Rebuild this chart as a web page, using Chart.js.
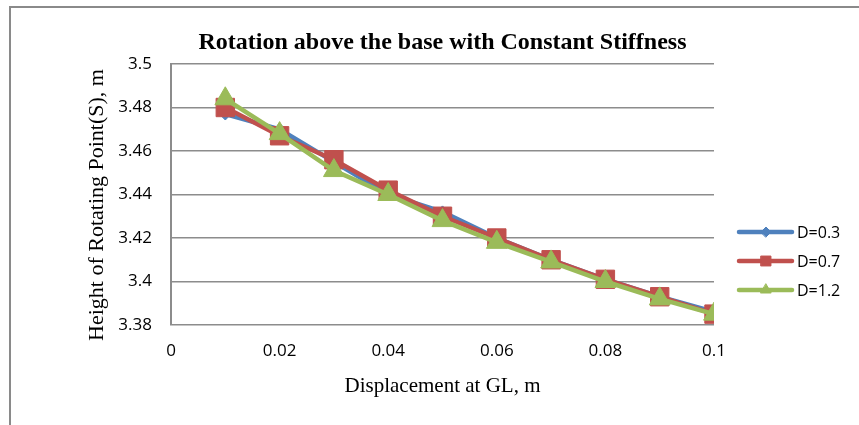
<!DOCTYPE html>
<html>
<head>
<meta charset="utf-8">
<script src="https://cdn.jsdelivr.net/npm/chart.js@4.4.1/dist/chart.umd.min.js"></script>
<style>
  html, body { margin: 0; padding: 0; background: #fff; }
  #wrap { position: relative; width: 859px; height: 425px; }
</style>
</head>
<body>
<div id="wrap"><canvas id="c" width="859" height="425"></canvas></div>
<script>
// ---- data ----
const displacement = [0.01, 0.02, 0.03, 0.04, 0.05, 0.06, 0.07, 0.08, 0.09, 0.1];
const seriesNames = ["D=0.3", "D=0.7", "D=1.2"];
const heightD03 = [3.477, 3.470, 3.455, 3.440, 3.432, 3.420, 3.410, 3.401, 3.393, 3.386];
const heightD07 = [3.480, 3.467, 3.456, 3.442, 3.430, 3.420, 3.410, 3.401, 3.393, 3.385];
const heightD12 = [3.484, 3.468, 3.451, 3.440, 3.428, 3.418, 3.409, 3.400, 3.392, 3.385];
const chartTitle = "Rotation above the base with Constant Stiffness";
const xTitle = "Displacement at GL, m";
const yTitle = "Height of Rotating Point(S), m";

const colors = ["#4F81BD", "#C0504D", "#9BBB59"];
const styles = ["rectRot", "rect", "triangle"];
const radii = [6, 13, 12];
const legendRadii = [5, 7, 6];
const series = [heightD03, heightD07, heightD12];

const SANS = "'Open Sans', 'DejaVu Sans', sans-serif";
const SERIF = "'Liberation Serif', 'Times New Roman', serif";

const datasets = series.map((vals, i) => ({
  label: seriesNames[i],
  data: displacement.map((x, j) => ({ x: x, y: vals[j] })),
  borderColor: colors[i],
  backgroundColor: colors[i],
  borderWidth: 4.5,
  pointStyle: styles[i],
  pointRadius: radii[i],
  pointHoverRadius: radii[i],
  pointBorderColor: colors[i],
  pointBackgroundColor: colors[i],
  pointBorderWidth: 1,
  tension: 0,
  order: 2 - i
}));

const decor = {
  id: 'decor',
  beforeDraw(chart) {
    const ctx = chart.ctx;
    ctx.save();
    ctx.fillStyle = '#fff';
    ctx.fillRect(0, 0, chart.width, chart.height);
    ctx.strokeStyle = '#8a8a8a';
    ctx.lineWidth = 2;
    ctx.beginPath();
    ctx.moveTo(10, chart.height);
    ctx.lineTo(10, 7);
    ctx.lineTo(chart.width, 7);
    ctx.stroke();
    ctx.restore();
  },
  afterDraw(chart) {
    const ctx = chart.ctx;
    const a = chart.chartArea;
    const cx = (a.left + a.right) / 2;
    ctx.save();
    ctx.fillStyle = '#000';
    ctx.textAlign = 'center';
    ctx.textBaseline = 'middle';
    ctx.font = "bold 24px " + SERIF;
    ctx.fillText(chartTitle, cx, 43);
    ctx.font = "21px " + SERIF;
    ctx.fillText(xTitle, cx, 386);
    ctx.save();
    ctx.translate(97, 205);
    ctx.rotate(-Math.PI / 2);
    ctx.font = "22px " + SERIF;
    ctx.fillText(yTitle, 0, 0);
    ctx.restore();
    chart.data.datasets.forEach((ds, i) => {
      const y = 232 + i * 29;
      ctx.strokeStyle = ds.borderColor;
      ctx.fillStyle = ds.borderColor;
      ctx.lineWidth = 4.5;
      ctx.lineCap = 'round';
      ctx.beginPath();
      ctx.moveTo(739, y);
      ctx.lineTo(792, y);
      ctx.stroke();
      ctx.lineWidth = 1;
      Chart.helpers.drawPoint(ctx, {
        pointStyle: ds.pointStyle, rotation: 0, borderWidth: 1, radius: legendRadii[i]
      }, 766, y);
      ctx.fillStyle = '#000';
      ctx.font = "16px " + SANS;
      ctx.textAlign = 'left';
      ctx.fillText(ds.label, 797, y + 1);
    });
    ctx.restore();
  }
};

const fmt = v => String(Math.round(v * 1000) / 1000);

new Chart(document.getElementById('c'), {
  type: 'line',
  data: { datasets: datasets },
  plugins: [decor],
  options: {
    responsive: false,
    animation: false,
    events: [],
    layout: { padding: { left: 0, right: 145, top: 64, bottom: 0 } },
    plugins: { legend: { display: false }, title: { display: false }, tooltip: { enabled: false } },
    scales: {
      x: {
        type: 'linear', min: 0, max: 0.1,
        afterFit: s => { s.height = 100; },
        ticks: { stepSize: 0.02, callback: fmt, color: '#000', font: { family: SANS, size: 17 }, padding: 16, maxRotation: 0, autoSkip: false },
        grid: { display: false, drawTicks: false },
        border: { display: false }
      },
      y: {
        type: 'linear', min: 3.38, max: 3.5,
        afterFit: s => { s.width = 171; },
        ticks: { stepSize: 0.02, callback: fmt, color: '#000', font: { family: SANS, size: 17 }, padding: 19 },
        grid: { color: '#8c8c8c', lineWidth: 1.5, drawTicks: false },
        border: { display: true, color: '#8c8c8c', width: 2 }
      }
    }
  }
});
</script>
</body>
</html>
